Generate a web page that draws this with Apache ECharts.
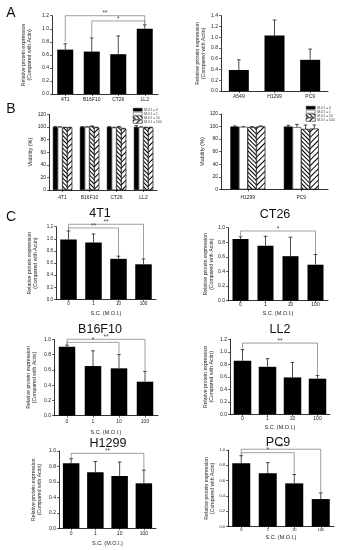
<!DOCTYPE html>
<html><head><meta charset="utf-8">
<script src="https://cdn.jsdelivr.net/npm/echarts@6/dist/echarts.min.js"></script>
<style>html,body{margin:0;padding:0;background:#fff}#c{width:345px;height:550px}</style>
</head><body><div id="c"></div>
<script>
// ---------- DATA ----------
// Panel A
const aLeftCats = ['4T1', 'B16F10', 'CT26', 'LL2'];
const aLeftMean = [0.68, 0.65, 0.61, 1.00];
const aLeftSD = [0.09, 0.21, 0.28, 0.06];
const aLeftSig = [[0, 3, 1.20, 0.80, 1.08, 2], [1, 3, 1.12, 0.88, 1.07, 1]];
const aRightCats = ['A549', 'H1299', 'PC9'];
const aRightMean = [0.39, 1.03, 0.58];
const aRightSD = [0.19, 0.29, 0.20];
// Panel B
const moiNames = ['M.O.I = 0', 'M.O.I = 1', 'M.O.I = 10', 'M.O.I = 100'];
const bLeftCats = ['4T1', 'B16F10', 'CT26', 'LL2'];
const bLeftMean = [[100, 100, 100, 100], [100, 100, 99, 100], [99, 101, 100, 99], [99, 99, 97, 99]];
const bLeftSD = [[0.5, 0.5, 0.5, 2], [0.3, 0.3, 0.5, 0.3], [0.5, 0.5, 0.5, 0.5], [0.5, 0.5, 0.8, 0.5]];
const bRightCats = ['H1299', 'PC9'];
const bRightMean = [[100, 100], [99.5, 99], [99, 96], [100, 96.5]];
const bRightSD = [[1, 2], [0.3, 4.5], [1, 6.5], [1, 6]];
// Panel C
const moiCats = ['0', '1', '10', '100'];
const c4T1Mean = [0.99, 0.94, 0.67, 0.58];
const c4T1SD = [0.14, 0.14, 0.045, 0.09];
const c4T1Sig = [[0, 3, 1.24, 1.14, 0.68, 2], [0, 2, 1.18, 1.14, 0.72, 2]];
const cCT26Mean = [0.845, 0.753, 0.61, 0.493];
const cCT26SD = [0.03, 0.13, 0.26, 0.14];
const cCT26Sig = [[0, 3, 0.955, 0.88, 0.64, 1]];
const cB16Mean = [0.904, 0.65, 0.62, 0.445];
const cB16SD = [0.02, 0.2, 0.18, 0.135];
const cB16Sig = [[0, 3, 1.0, 0.925, 0.59, 2], [0, 2, 0.96, 0.925, 0.81, 1]];
const cLL2Mean = [0.856, 0.76, 0.59, 0.57];
const cLL2SD = [0.18, 0.13, 0.24, 0.05];
const cLL2Sig = [[0, 3, 1.14, 1.05, 0.63, 2]];
const cH1299Mean = [0.84, 0.724, 0.677, 0.582];
const cH1299SD = [0.06, 0.14, 0.18, 0.17];
const cH1299Sig = [[0, 3, 0.97, 0.91, 0.76, 2]];
const cPC9Mean = [0.826, 0.696, 0.565, 0.36];
const cPC9SD = [0.1, 0.14, 0.115, 0.08];
const cPC9Sig = [[0, 3, 1.01, 0.94, 0.45, 2], [0, 2, 0.965, 0.94, 0.69, 1]];

// ---------- BUILD ----------
const FONT = 'Arial, "Liberation Sans", sans-serif';
const YNAME = 'Relative protein expression\n(Compared with Actin)';
const grids = [], xAxes = [], yAxes = [], series = [], titles = [];

function addPanel(p) {
  const gi = grids.length;
  grids.push({left: p.g[0], top: p.g[1], width: p.g[2], height: p.g[3], containLabel: false});
  xAxes.push({
    type: 'category', gridIndex: gi, data: p.cats,
    axisLine: {lineStyle: {color: '#000', width: 0.8}},
    axisTick: {show: true, alignWithLabel: true, length: 2, lineStyle: {color: '#000', width: 0.6}},
    axisLabel: {fontSize: p.fs, margin: p.lm, color: '#222', fontFamily: FONT, interval: 0},
    name: p.xName || '', nameLocation: 'middle', nameGap: p.xGap || 0,
    nameTextStyle: {fontSize: p.xfs || 5.5, color: '#222', fontFamily: FONT}
  });
  yAxes.push({
    type: 'value', gridIndex: gi, min: 0, max: p.max, interval: p.itv,
    splitLine: {show: false},
    axisLine: {show: true, lineStyle: {color: '#000', width: 0.8}},
    axisTick: {show: true, length: 2, lineStyle: {color: '#000', width: 0.6}},
    axisLabel: {fontSize: p.fs, margin: 3, color: '#222', fontFamily: FONT,
      formatter: v => p.dec ? v.toFixed(p.dec) : String(Math.round(v))},
    name: p.yName, nameLocation: 'middle', nameGap: p.yGap, nameRotate: 90,
    nameTextStyle: {fontSize: p.yfs || 5.2, lineHeight: 6, color: '#222', fontFamily: FONT, align: 'center'}
  });
  return gi;
}

function errRenderer(offsetFn) {
  return function (params, api) {
    const ci = api.value(0), k = api.value(1), m = api.value(2), s = api.value(3);
    const off = offsetFn(k);
    const p0 = api.coord([ci, m]), p1 = api.coord([ci, m + s]);
    const x = p0[0] + off, hw = 1.8;
    return {type: 'group', children: [
      {type: 'line', shape: {x1: x, y1: p0[1], x2: x, y2: p1[1]}, style: {stroke: '#000', lineWidth: 0.7}},
      {type: 'line', shape: {x1: x - hw, y1: p1[1], x2: x + hw, y2: p1[1]}, style: {stroke: '#000', lineWidth: 0.7}}
    ]};
  };
}

function sigRender(params, api) {
  const i1 = api.value(0), i2 = api.value(1), lv = api.value(2), d1 = api.value(3), d2 = api.value(4), n = api.value(5);
  const a = api.coord([i1, d1]), b = api.coord([i1, lv]), c = api.coord([i2, lv]), d = api.coord([i2, d2]);
  return {type: 'group', children: [
    {type: 'polyline', shape: {points: [a, b, c, d]}, style: {stroke: '#777', lineWidth: 0.7, fill: null}},
    {type: 'text', x: (b[0] + c[0]) / 2, y: b[1] + 1.5,
      style: {text: '*'.repeat(n), fontSize: 6.5, fill: '#444', align: 'center', verticalAlign: 'bottom', fontFamily: FONT}}
  ]};
}

function simplePanel(p, mean, sd, sig, barW) {
  const gi = addPanel(p);
  series.push({type: 'bar', xAxisIndex: gi, yAxisIndex: gi, data: mean, barWidth: barW,
    itemStyle: {color: '#000'}, silent: true, z: 2});
  series.push({type: 'custom', xAxisIndex: gi, yAxisIndex: gi, z: 3, silent: true, clip: false,
    renderItem: errRenderer(() => 0),
    data: mean.map((m, i) => [i, 0, m, sd[i]])});
  if (sig && sig.length) {
    series.push({type: 'custom', xAxisIndex: gi, yAxisIndex: gi, z: 4, silent: true, clip: false,
      renderItem: sigRender, data: sig});
  }
}

const decals = [
  null, null,
  {symbol: 'rect', symbolSize: 1, color: '#000', backgroundColor: '#fff', dashArrayX: [1, 0], dashArrayY: [0.7, 1.1], rotation: Math.PI / 4},
  {symbol: 'rect', symbolSize: 1, color: '#000', backgroundColor: '#fff', dashArrayX: [1, 0], dashArrayY: [1, 2.2], rotation: -Math.PI / 4}
];
const fills = ['#000', '#fff', '#fff', '#fff'];

function groupPanel(p, means, sds, barW) {
  const gi = addPanel(p);
  means.forEach((arr, k) => {
    const st = {color: fills[k], borderColor: '#000', borderWidth: 0.5};
    if (decals[k]) st.decal = decals[k];
    series.push({type: 'bar', name: moiNames[k], xAxisIndex: gi, yAxisIndex: gi, data: arr,
      barWidth: barW, barGap: '0%', itemStyle: st, silent: true, z: 2});
  });
  const errData = [];
  means.forEach((arr, k) => arr.forEach((m, i) => errData.push([i, k, m, sds[k][i]])));
  series.push({type: 'custom', xAxisIndex: gi, yAxisIndex: gi, z: 3, silent: true, clip: false,
    renderItem: errRenderer(k => (k - 1.5) * barW), data: errData});
}

// Panel A
simplePanel({g: [52, 15.7, 106, 78.3], cats: aLeftCats, max: 1.2, itv: 0.2, dec: 1, fs: 5, lm: 3,
  yName: YNAME, yGap: 19}, aLeftMean, aLeftSD, aLeftSig, 16);
simplePanel({g: [221, 15.7, 107, 75.3], cats: aRightCats, max: 1.4, itv: 0.2, dec: 1, fs: 5, lm: 3,
  yName: YNAME, yGap: 14}, aRightMean, aRightSD, [], 20);
// Panel B
groupPanel({g: [49, 114.3, 108, 75.7], cats: bLeftCats, max: 120, itv: 20, dec: 0, fs: 5, lm: 5,
  yName: 'Viability (%)', yGap: 15, yfs: 5.5}, bLeftMean, bLeftSD, 4.8);
groupPanel({g: [221, 114, 107, 75.3], cats: bRightCats, max: 120, itv: 20, dec: 0, fs: 5, lm: 6,
  yName: 'Viability (%)', yGap: 14, yfs: 5.5}, bRightMean, bRightSD, 8.7);
// Panel C
const XN = 'S.C. (M.O.I.)';
simplePanel({g: [56, 226.7, 100, 72.8], cats: moiCats, max: 1.2, itv: 0.2, dec: 1, fs: 4.5, lm: 2,
  yName: YNAME, yGap: 17, xName: XN, xGap: 11}, c4T1Mean, c4T1SD, c4T1Sig, 16.5);
simplePanel({g: [228, 227.7, 100, 73], cats: moiCats, max: 1.0, itv: 0.2, dec: 1, fs: 5, lm: 1.5,
  yName: YNAME, yGap: 13, xName: XN, xGap: 9.5}, cCT26Mean, cCT26SD, cCT26Sig, 16);
simplePanel({g: [54, 339.3, 104, 76.4], cats: moiCats, max: 1.0, itv: 0.2, dec: 1, fs: 5, lm: 3,
  yName: YNAME, yGap: 16, xName: XN, xGap: 13.5}, cB16Mean, cB16SD, cB16Sig, 16.5);
simplePanel({g: [230, 339.3, 100, 75], cats: moiCats, max: 1.2, itv: 0.2, dec: 1, fs: 5, lm: 2,
  yName: YNAME, yGap: 15, xName: XN, xGap: 10.5}, cLL2Mean, cLL2SD, cLL2Sig, 17.5);
simplePanel({g: [59, 451, 97, 77.3], cats: moiCats, max: 1.0, itv: 0.2, dec: 1, fs: 5, lm: 3,
  yName: YNAME, yGap: 16, xName: XN, xGap: 12.5}, cH1299Mean, cH1299SD, cH1299Sig, 16.5);
simplePanel({g: [228, 450, 106, 76.7], cats: moiCats, max: 1.0, itv: 0.2, dec: 1, fs: 4, lm: 1.5,
  yName: YNAME, yGap: 11, xName: XN, xGap: 8}, cPC9Mean, cPC9SD, cPC9Sig, 18);

// Titles
function addTitle(text, x, y, size) {
  titles.push({text: text, left: x, top: y, textAlign: 'center', padding: 0,
    textStyle: {fontSize: size, fontWeight: 'normal', color: '#111', fontFamily: FONT}});
}
addTitle('A', 11, 6, 14); addTitle('B', 11, 102, 14); addTitle('C', 11, 210, 14);
addTitle('4T1', 100, 207, 12.5); addTitle('CT26', 275, 208, 12.5);
addTitle('B16F10', 100, 323, 12.5); addTitle('LL2', 280, 323, 12.5);
addTitle('H1299', 108, 437, 12.5); addTitle('PC9', 278, 436, 12.5);

const legendItems = moiNames.map((n, k) => {
  const st = {color: fills[k], borderColor: '#000', borderWidth: 0.4};
  if (decals[k]) st.decal = decals[k];
  return {name: n, itemStyle: st};
});
const legendBase = {orient: 'vertical', itemWidth: 9, itemHeight: 3, itemGap: 0.6, padding: 0,
  selectedMode: false, icon: 'rect', data: legendItems,
  textStyle: {fontSize: 3.3, lineHeight: 3.4, height: 3.4, color: '#333', fontFamily: FONT, padding: [0, 0, 0, -3]}};

const chart = echarts.init(document.getElementById('c'), null, {renderer: 'canvas'});
chart.setOption({
  animation: false,
  backgroundColor: '#fff',
  title: titles,
  legend: [Object.assign({left: 133, top: 108}, legendBase), Object.assign({left: 306, top: 106}, legendBase)],
  grid: grids, xAxis: xAxes, yAxis: yAxes, series: series
});
</script></body></html>
